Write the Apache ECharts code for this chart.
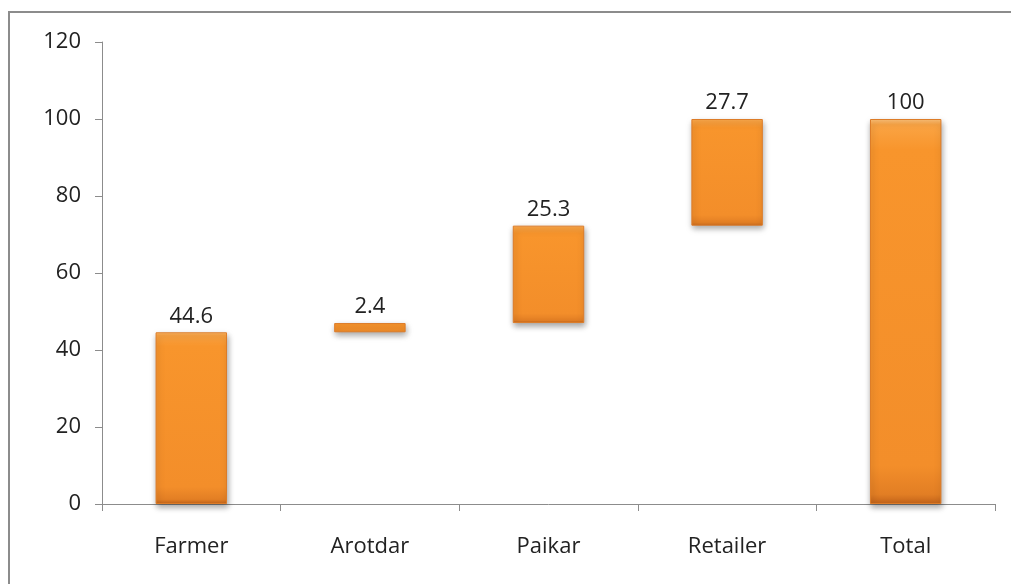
<!DOCTYPE html>
<html>
<head>
<meta charset="utf-8">
<script src="https://cdn.jsdelivr.net/npm/echarts@6/dist/echarts.min.js"></script>
<style>html,body{margin:0;padding:0;background:#fff}#c{width:1011px;height:584px}</style>
</head>
<body>
<div id="c"></div>
<script>
const categories = ['Farmer', 'Arotdar', 'Paikar', 'Retailer', 'Total'];
const baseValues = [0, 44.6, 47.0, 72.3, 0];
const barValues = [44.6, 2.4, 25.3, 27.7, 100];
const labelValues = ['44.6', '2.4', '25.3', '27.7', '100'];
const yTicks = [0, 20, 40, 60, 80, 100, 120];

const FONT = 'Open Sans, Liberation Sans, sans-serif';
const chart = echarts.init(document.getElementById('c'), null, {renderer: 'canvas'});
const fill = new echarts.graphic.LinearGradient(0, 0, 0, 1, [
  {offset: 0, color: '#FDC27A'},
  {offset: 0.015, color: '#FAA444'},
  {offset: 0.08, color: '#F8952C'},
  {offset: 0.9, color: '#F38E2A'},
  {offset: 0.975, color: '#E27E24'},
  {offset: 1, color: '#C2631A'}
]);
chart.setOption({
  animation: false,
  graphic: [{
    type: 'rect', shape: {x: 9, y: 12, width: 1020, height: 600},
    style: {fill: 'none', stroke: '#8c8c8c', lineWidth: 2}, silent: true
  }],
  grid: {left: 102, right: 16, top: 42, bottom: 80, containLabel: false},
  xAxis: {
    type: 'category', data: categories,
    axisLine: {lineStyle: {color: '#8c8c8c', width: 1}},
    axisTick: {show: true, length: 7, interval: 0, lineStyle: {color: '#8c8c8c'}},
    axisLabel: {color: '#222', fontSize: 22, fontFamily: FONT, margin: 32}
  },
  yAxis: {
    type: 'value', min: yTicks[0], max: yTicks[yTicks.length - 1], interval: 20,
    axisLine: {show: true, lineStyle: {color: '#8c8c8c', width: 1}},
    axisTick: {show: true, length: 7, lineStyle: {color: '#8c8c8c'}},
    splitLine: {show: false},
    axisLabel: {color: '#222', fontSize: 22, fontFamily: FONT, margin: 21}
  },
  series: [{
    type: 'bar', stack: 'w', data: baseValues, barWidth: '40%',
    itemStyle: {color: 'transparent'}, silent: true
  }, {
    type: 'bar', stack: 'w', data: barValues, barWidth: '40%',
    itemStyle: {
      color: fill, borderColor: '#DD7C28', borderWidth: 1,
      shadowColor: 'rgba(0,0,0,0.35)', shadowBlur: 6, shadowOffsetY: 3, shadowOffsetX: 1
    },
    label: {
      show: true, position: 'top', distance: 5,
      color: '#222', fontSize: 22, fontFamily: FONT,
      formatter: p => labelValues[p.dataIndex]
    }
  }]
});
</script>
</body>
</html>
